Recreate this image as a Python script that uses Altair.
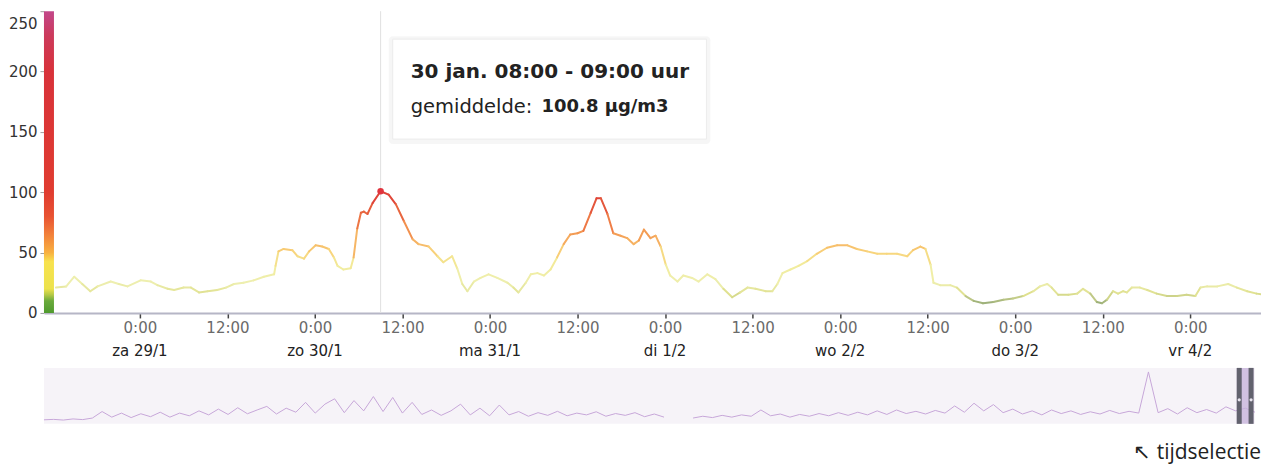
import altair as alt
import pandas as pd

# ---------------- data ----------------
# hours after Sat 29 Jan 2022 00:00 and hourly mean concentration (µg/m3)
hours = [
    -11.5, -10.1, -9.0, -7.9, -6.8, -5.8, -4.0, -2.9, -1.7, 0.1,
    1.5, 2.4, 3.8, 4.7, 6.0, 7.0, 8.1, 9.3, 10.6, 11.8,
    12.9, 14.2, 15.6, 17.0, 18.4, 18.6, 19.0, 19.7, 20.9, 21.6,
    22.5, 23.2, 24.1, 25.0, 25.9, 26.6, 27.1, 27.9,
    28.9, 29.3, 29.8, 30.3, 30.7, 31.2, 31.9, 33.0, 34.1, 35.1,
    36.2, 37.4, 38.2, 39.6, 40.8, 41.6, 42.8, 43.5, 44.2, 44.9,
    45.8, 46.7, 47.8, 49.0, 50.4, 51.2, 51.9, 52.9, 53.6, 54.5,
    55.4, 56.3, 57.2, 58.1, 59.0, 60.0, 60.8, 61.8, 62.6, 63.2,
    64.1, 64.9, 65.9, 66.8, 67.7, 68.4, 69.1, 70.0, 70.7, 71.4,
    72.1, 72.7, 73.7, 74.5, 75.7, 76.6, 77.8, 78.9, 80.0, 81.2,
    82.3, 83.3, 84.4, 85.8, 86.7, 87.4, 88.1, 89.2, 90.3, 91.5,
    92.8, 94.2, 95.6, 97.0, 98.3, 99.7, 101.1, 102.4, 103.8, 105.2,
    106.0, 107.0, 107.7, 108.4, 108.8, 109.7, 111.1,
    112.0, 113.2, 114.3, 115.6, 117.0, 118.4, 119.7, 121.1, 122.5, 123.4,
    124.4, 125.0, 125.9, 127.3, 128.5, 129.3, 130.3, 131.2, 131.9, 132.6,
    133.4, 134.1, 134.8, 135.3, 136.0, 137.1, 138.1, 139.4, 140.8, 142.2,
    143.5, 144.7, 145.4, 146.3, 147.7, 149.2, 150.4, 151.8, 153.1, 154.5,
]
values = [
    21, 22, 30, 24, 18, 22, 26, 24, 22, 27,
    26, 23, 20, 19, 21, 21, 17, 18, 19, 21,
    24, 25, 27, 30, 32, 39, 51, 53, 52, 47,
    45, 51, 56, 55, 53, 46, 39, 36,
    37, 46, 70, 83, 84, 82, 91, 100.8, 98, 90,
    76, 61, 57, 55, 47, 42, 47, 37, 24, 18,
    26, 29, 32, 29, 25, 21, 17, 25, 32, 33,
    31, 36, 46, 57, 65, 66, 68, 83, 95, 95,
    82, 66, 64, 62, 57, 60, 69, 62, 64, 55,
    40, 31, 26, 31, 29, 26, 32, 28, 20, 13,
    17, 21, 20, 18, 18, 24, 33, 36, 39, 43,
    49, 54, 56, 56, 53, 51, 49, 49, 49, 47,
    52, 55, 53, 40, 25, 23, 23,
    21, 14, 10, 8, 9, 11, 12, 14, 18, 22,
    24, 21, 15, 15, 16, 20, 16, 9, 8, 11,
    18, 16, 18, 17, 21, 21, 19, 16, 14, 14,
    15, 14, 21, 22, 22, 24, 21, 18, 16, 15,
]
tick_hours = [0, 12, 24, 36, 48, 60, 72, 84, 96, 108, 120, 132, 144]
day_hours = [0, 24, 48, 72, 96, 120, 144]
day_labels = ["za 29/1", "zo 30/1", "ma 31/1", "di 1/2", "wo 2/2", "do 3/2", "vr 4/2"]
y_ticks = [0, 50, 100, 150, 200, 250]
sel_hour = 33.0  # 30 jan 08:00 - 09:00

# overview (long period), one value every 4 days from 23 Sep 2020; None = no data
ov_values = [
    18, 20, 17, 22, 19, 26, 55, 30, 48, 28,
    45, 32, 52, 30, 48, 36, 58, 40, 66, 42,
    72, 45, 62, 78, 44, 70, 52, 96, 48, 88,
    112, 50, 104, 58, 122, 55, 118, 48, 96, 42,
    62, 38, 58, 88, 40, 70, 36, 84, 40, 55,
    34, 50, 38, 56, 36, 48, 40, 54, 34, 46,
    38, 50, 32, 44, 30, None, None, 26, 34, 28,
    38, 30, 40, 34, 62, 36, 44, 30, 42, 34,
    46, 36, 50, 38, 52, 40, 58, 42, 62, 46,
    56, 44, 60, 48, 80, 52, 92, 58, 86, 50,
    66, 44, 58, 40, 62, 46, 58, 42, 54, 44,
    60, 46, 56, 48, 232, 50, 68, 44, 72, 50,
    64, 48, 76, 58, 70, 52,
]

# ---------------- tables ----------------
T0 = pd.Timestamp("2022-01-29T00:00:00Z")


def ts(h):
    return T0 + pd.Timedelta(hours=h)


def iso(t):
    return t.strftime("%Y-%m-%dT%H:%M:%SZ")


def ms(t):
    return int(t.timestamp() * 1000)


seg = pd.DataFrame({
    "t": [iso(ts(h)) for h in hours[:-1]],
    "t2": [iso(ts(h)) for h in hours[1:]],
    "v": values[:-1],
    "v2": values[1:],
})
seg["c"] = (seg["v"] + seg["v2"]) / 2

sel_val = values[hours.index(sel_hour)]
sel_df = pd.DataFrame({"t": [iso(ts(sel_hour))], "v": [sel_val]})
days_df = pd.DataFrame({"t": [iso(ts(h)) for h in day_hours], "lab": day_labels})
bar_df = pd.DataFrame({"lo": [0], "hi": [250]})
one = pd.DataFrame({"k": [0]})

main_start = ts(-13.15)
main_end = ts(153.7)

W, H = 1218, 302
OW, OH = 1212, 56

xs = alt.Scale(type="utc", domain=[ms(main_start), ms(main_end)])
xaxis = alt.Axis(
    values=[ms(ts(h)) for h in tick_hours],
    labelExpr="utcFormat(datum.value, '%-H:%M')",
    grid=False, title=None,
    domainColor="#b6b6c6", domainWidth=2,
    tickColor="#444", tickSize=5, tickWidth=1.5,
    labelColor="#6a6a6a", labelFontSize=15, labelPadding=3,
    labelFont="DejaVu Sans",
)
ys = alt.Scale(domain=[0, 250], nice=False, zero=True)
yaxis = alt.Axis(
    values=y_ticks, grid=False, title=None, domain=False,
    tickColor="#a0a0a0", tickSize=4, labelColor="#333",
    labelFontSize=15, labelPadding=3, labelFont="DejaVu Sans",
    labelOffset={"condition": {"test": "datum.value == 250", "value": 12}, "value": 0},
    minExtent=35, maxExtent=35,
)


def X(f):
    return alt.X(f, type="temporal", scale=xs, axis=xaxis, title=None)


def Y(f):
    return alt.Y(f, type="quantitative", scale=ys, axis=yaxis, title=None)


grad = alt.Gradient(
    gradient="linear", x1=0, y1=1, x2=0, y2=0,
    stops=[
        alt.GradientStop(offset=0.0, color="#4f9a2e"),
        alt.GradientStop(offset=0.04, color="#6aaa3c"),
        alt.GradientStop(offset=0.06, color="#b4c846"),
        alt.GradientStop(offset=0.08, color="#ece24c"),
        alt.GradientStop(offset=0.17, color="#f8e24e"),
        alt.GradientStop(offset=0.2, color="#f8b040"),
        alt.GradientStop(offset=0.26, color="#f2803a"),
        alt.GradientStop(offset=0.32, color="#e85232"),
        alt.GradientStop(offset=0.4, color="#e03c30"),
        alt.GradientStop(offset=0.8, color="#d8323a"),
        alt.GradientStop(offset=0.92, color="#cc3a5c"),
        alt.GradientStop(offset=1.0, color="#c2478a"),
    ],
)

colorbar = alt.Chart(bar_df).mark_rect(color=grad).encode(
    x=alt.value(0), x2=alt.value(10), y=Y("lo"), y2="hi"
)

vrule = alt.Chart(sel_df).mark_rule(color="#e0e0e0", strokeWidth=1).encode(
    x=X("t"), y=alt.value(0), y2=alt.value(H)
)

line_colors = alt.Scale(
    domain=[0, 8, 12, 16, 25, 40, 50, 60, 75, 95, 150, 250],
    range=["#7f9f5a", "#9aae78", "#bcc686", "#dfe08e", "#eeefb0", "#f2ec9c",
           "#f8d47c", "#f6ae60", "#ee7a46", "#df4439", "#d8323c", "#c84282"],
)
segments = alt.Chart(seg).mark_rule(strokeWidth=2, strokeCap="round", clip=True).encode(
    x=X("t"), x2="t2", y=Y("v"), y2="v2",
    color=alt.Color("c:Q", scale=line_colors, legend=None),
)

dot = alt.Chart(sel_df).mark_circle(size=42, color="#e0343e", opacity=1).encode(
    x=X("t"), y=Y("v")
)

shadow = alt.Chart(one).mark_rect(color="#000", opacity=0.035, cornerRadius=4).encode(
    x=alt.value(345), x2=alt.value(667), y=alt.value(25), y2=alt.value(133)
)
box = alt.Chart(one).mark_rect(fill="white", stroke="#ececec", strokeWidth=1).encode(
    x=alt.value(349), x2=alt.value(663), y=alt.value(28), y2=alt.value(128)
)
tip_title = alt.Chart(one).mark_text(
    text="30 jan. 08:00 - 09:00 uur", align="left", baseline="middle",
    fontSize=20, fontWeight="bold", color="#222", font="DejaVu Sans"
).encode(x=alt.value(367), y=alt.value(61))
tip_lab = alt.Chart(one).mark_text(
    text="gemiddelde:", align="left", baseline="middle",
    fontSize=19.5, color="#222", font="DejaVu Sans"
).encode(x=alt.value(367), y=alt.value(96))
tip_val = alt.Chart(one).mark_text(
    text=f"{sel_val:.1f} µg/m3", align="left", baseline="middle",
    fontSize=18, fontWeight="bold", color="#222", font="DejaVu Sans"
).encode(x=alt.value(498), y=alt.value(96))

daytext = alt.Chart(days_df).mark_text(
    fontSize=15, color="#222", baseline="middle", font="DejaVu Sans"
).encode(x=X("t"), y=alt.value(H + 38), text="lab:N")

main = alt.layer(
    colorbar, vrule, segments, dot, shadow, box, tip_title, tip_lab, tip_val, daytext
).properties(width=W, height=H)

# ---------------- overview ----------------
OV0 = pd.Timestamp("2020-09-23T00:00:00Z")
ov_rows = []
segid = 0
for i, v in enumerate(ov_values):
    if v is None:
        segid = 1
        continue
    ov_rows.append({"d": iso(OV0 + pd.Timedelta(days=4 * i)), "v": v, "s": segid})
ov_df = pd.DataFrame(ov_rows)
ov_end = OV0 + pd.Timedelta(days=4 * (len(ov_values) - 1))

oxs = alt.Scale(type="utc", domain=[ms(OV0), ms(ov_end)])
oys = alt.Scale(domain=[0, 250], nice=False)


def OX(f):
    return alt.X(f, type="temporal", scale=oxs, axis=None, title=None)


brush_df = pd.DataFrame({"a": [iso(main_start)], "b": [iso(main_end)]})

ov_bg = alt.Chart(one).mark_rect(color="#f6f3f8").encode(
    x=alt.value(0), x2=alt.value(OW), y=alt.value(0), y2=alt.value(OH)
)
ov_line = alt.Chart(ov_df).mark_line(color="#c7a7d9", strokeWidth=1).encode(
    x=OX("d"), y=alt.Y("v:Q", scale=oys, axis=None), detail="s:N"
)
brush = alt.Chart(brush_df).mark_rect(color="#c4b0da", opacity=0.75).encode(
    x=OX("a"), x2="b", y=alt.value(0), y2=alt.value(OH)
)
handle_a = alt.Chart(brush_df).mark_rule(color="#62626e", strokeWidth=5, xOffset=2.5).encode(
    x=OX("a"), y=alt.value(0), y2=alt.value(OH)
)
handle_b = alt.Chart(brush_df).mark_rule(color="#62626e", strokeWidth=5, xOffset=-2.5).encode(
    x=OX("b"), y=alt.value(0), y2=alt.value(OH)
)
knob_a = alt.Chart(brush_df).mark_circle(color="#e8e4ee", size=10, opacity=1, xOffset=2.5).encode(
    x=OX("a"), y=alt.value(32)
)
knob_b = alt.Chart(brush_df).mark_circle(color="#e8e4ee", size=10, opacity=1, xOffset=-2.5).encode(
    x=OX("b"), y=alt.value(32)
)
caption = alt.Chart(one).mark_text(
    text="↖ tijdselectie", align="right", baseline="middle",
    fontSize=21, color="#222", font="Open Sans"
).encode(x=alt.value(OW + 6), y=alt.value(85))

overview = alt.layer(
    ov_bg, ov_line, brush, handle_a, handle_b, knob_a, knob_b, caption
).properties(width=OW, height=OH)

chart = alt.vconcat(main, overview, spacing=6).properties(
    padding={"left": 0, "top": 2, "right": 0, "bottom": 6},
    background="white",
).configure(
    font="DejaVu Sans",
    view=alt.ViewConfig(stroke="transparent", strokeWidth=0),
)

chart.save("out.html", embed_options={"renderer": "svg", "actions": False})
